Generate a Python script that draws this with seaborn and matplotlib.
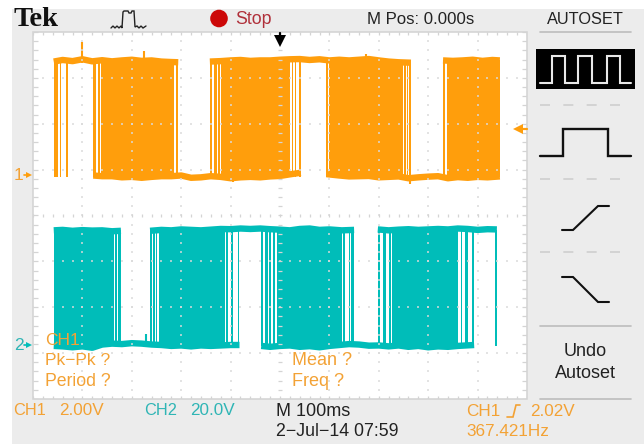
import numpy as np
import pandas as pd
import matplotlib
matplotlib.use("Agg")
import matplotlib.pyplot as plt
from matplotlib.patches import Rectangle, Circle
import seaborn as sns

# ---------- data (time in ms around the trigger, volts per channel) ----------
ch1_bursts = [(-458, -449), (-445, -443), (-433, -429), (-378, -373), (-369, -365),
              (-362, -214), (-211, -206), (-142, -138), (-133, -128), (-125, -121),
              (-119, 21), (24, 27), (30, 33), (38, 42), (94, 97), (100, 249),
              (251, 256), (258, 260), (262, 265), (330, 334), (338, 445)]
ch2_bursts = [(-458, -336), (-334, -329), (-327, -322), (-263, -260), (-257, -253),
              (-251, -248), (-245, -111), (-109, -105), (-99, -95), (-85, -82),
              (-38, -34), (-30, -25), (-22, -18), (-14, -10), (-6, 125),
              (128, 132), (139, 142), (144, 150), (198, 202), (209, 214), (221, 224),
              (226, 361), (366, 369), (374, 381), (389, 393), (435, 439)]

ch1_high_t = [[-458, -440, -420, -400, -380, -360, -340, -320, -300, -280, -260, -240, -220, -206],
              [-142, -120, -100, -80, -60, -40, -20, 0, 20, 40, 60, 80, 100, 120, 140, 160, 180, 200, 220, 240, 265],
              [330, 350, 370, 390, 410, 430, 445]]
ch1_high_v = [[4.95, 5.02, 4.97, 5.05, 4.96, 5.01, 4.96, 5.00, 5.03, 4.98, 5.00, 4.95, 4.93, 4.92],
              [4.95, 4.97, 5.00, 5.02, 4.98, 5.00, 5.00, 5.03, 5.05, 5.06, 5.02, 5.05, 5.00, 5.03, 5.00, 5.03, 5.06, 5.00, 4.95, 4.92, 4.90],
              [5.00, 4.98, 5.00, 5.03, 4.98, 5.02, 5.00]]
ch1_low_t = [[-378, -360, -340, -320, -300, -280, -260, -240, -220, -200, -180, -160, -140, -120, -100, -80, -60, -40, -20, 0, 20, 42],
             [94, 120, 140, 160, 180, 200, 220, 240, 260, 280, 300, 320, 340, 360, 380, 400, 420, 445]]
ch1_low_v = [[-0.02, -0.05, -0.05, -0.10, -0.08, -0.12, -0.08, -0.05, -0.05, -0.02, -0.12, -0.10, -0.05, -0.08, -0.14, -0.10, -0.08, -0.10, -0.06, -0.04, 0.03, 0.10],
             [0.04, -0.02, -0.06, -0.05, -0.04, -0.10, -0.08, -0.06, -0.14, -0.10, -0.07, -0.05, -0.14, -0.09, -0.12, -0.08, -0.10, -0.06]]
ch2_high_t = [[-458, -440, -420, -400, -380, -360, -340, -322],
              [-263, -240, -220, -200, -180, -160, -140, -120, -100, -80, -60, -40, -20, 0, 20, 40, 60, 80, 100, 125, 150],
              [198, 220, 240, 260, 280, 300, 320, 340, 360, 380, 400, 420, 439]]
ch2_high_v = [[50.0, 50.2, 49.8, 50.1, 49.9, 50.0, 49.6, 49.8],
              [49.8, 50.2, 50.0, 50.4, 50.2, 50.0, 50.3, 50.6, 50.5, 50.8, 50.6, 50.8, 50.5, 50.3, 50.0, 50.6, 50.8, 50.2, 50.4, 50.0, 50.2],
              [50.4, 50.0, 50.3, 50.5, 50.2, 50.4, 50.6, 50.4, 50.8, 50.6, 50.2, 50.5, 50.4]]
ch2_low_t = [[-458, -440, -420, -400, -380, -360, -340, -320, -300, -280, -260, -240, -220, -200, -180, -160, -140, -120, -100, -82],
             [-38, -20, 0, 20, 40, 60, 80, 100, 120, 140, 160, 180, 200, 220, 240, 260, 280, 300, 320, 340, 360, 393]]
ch2_low_v = [[-0.4, -0.6, -1.0, -0.6, -1.2, 0.2, 0.6, 0.4, 0.8, 0.6, 0.2, 0.0, -0.4, -0.2, -0.6, -0.2, -0.4, -0.2, 0.0, 0.0],
             [-0.4, -0.8, -0.4, -0.2, -0.8, -0.5, -1.0, -0.4, 0.0, 0.4, 0.2, -0.3, -0.2, -0.6, -0.2, -0.8, -0.4, -1.0, -0.6, -0.8, -0.4, 0.0]]

ch1_spikes = [(-400, 4.9, 5.8), (-275, 4.9, 5.4), (175, 4.9, 5.3), (263, 0.0, -0.4), (-95, 0.0, -0.3)]
ch2_spikes = [(-272, 0.0, 5.0), (-99, 0.0, -1.4), (250, 0.0, -1.6), (30, 0.0, 2.5), (120, 50.0, 51.6), (-33, 50.0, 51.2)]

labels_left = ["CH1", "Pk\u2212Pk ?", "Period ?"]
labels_right = ["Mean ?", "Freq ?"]

ORANGE = "#FF9E0C"
TEAL = "#00BDB9"
TEXT_O = "#F3A235"
TEXT_T = "#2FB5B5"
GRAY = "#ECECEC"
W, H = 644, 444

sns.set_theme(style="white")
plt.rcParams["font.family"] = ["Liberation Sans", "DejaVu Sans"]

fig = plt.figure(figsize=(W / 100, H / 100), dpi=100, facecolor="white")


def new_axes(box, z):
    a = fig.add_axes([box[0] / W, 1 - (box[1] + box[3]) / H, box[2] / W, box[3] / H], zorder=z)
    a.patch.set_alpha(0)
    a.set_xticks([]); a.set_yticks([])
    a.set_xlabel(""); a.set_ylabel("")
    for s in a.spines.values():
        s.set_visible(False)
    return a


def rails(t_lists, v_lists):
    return pd.concat([pd.DataFrame({"t": t, "v": v, "seg": i})
                      for i, (t, v) in enumerate(zip(t_lists, v_lists))], ignore_index=True)


def draw_channel(ax, bursts, high_t, high_v, low_t, low_v, spikes, color, top, bottom):
    for a, b in bursts:
        ax.bar(a, top - bottom, width=b - a, bottom=bottom, align="edge", color=color, linewidth=0)
    for t_l, v_l in ((high_t, high_v), (low_t, low_v)):
        sns.lineplot(data=rails(t_l, v_l), x="t", y="v", units="seg", estimator=None, sort=False,
                     color=color, lw=4.6, legend=False, ax=ax, solid_joinstyle="round", solid_capstyle="butt")
    for t, a, b in spikes:
        ax.plot([t, t], [a, b], color=color, lw=1.5, solid_capstyle="butt")
    ax.set_xticks([]); ax.set_yticks([]); ax.set_xlabel(""); ax.set_ylabel("")


# panel
bg = new_axes((0, 0, W, H), 0)
bg.set_xlim(0, W); bg.set_ylim(H, 0)
bg.add_patch(Rectangle((12, 9), W - 12, H - 9, color=GRAY, lw=0))
bg.add_patch(Rectangle((33, 32), 494, 367, facecolor="white", edgecolor="#D2D2D2", lw=1.1))

PLOT = (33, 32, 494, 367)
ax1 = new_axes(PLOT, 1)
draw_channel(ax1, ch1_bursts, ch1_high_t, ch1_high_v, ch1_low_t, ch1_low_v, ch1_spikes, ORANGE, 5.0, -0.08)
ax1.set_xlim(-500, 500); ax1.set_ylim(-9.77, 6.24)

ax2 = new_axes(PLOT, 2)
draw_channel(ax2, ch2_bursts, ch2_high_t, ch2_high_v, ch2_low_t, ch2_low_v, ch2_spikes, TEAL, 50.0, -0.5)
ax2.set_xlim(-500, 500); ax2.set_ylim(-23.55, 136.5)

# graticule in divisions
gr = new_axes(PLOT, 3)
gr.set_xlim(0, 10); gr.set_ylim(0, 8)
DOT = "#DADADA"
fine_x = np.arange(0, 10.01, 0.2)
fine_y = np.arange(0, 8.01, 0.2)
for d in range(1, 10):
    if d != 5:
        gr.scatter(np.full_like(fine_y, d), fine_y, s=2.0, color=DOT, alpha=0.75, marker="s", linewidths=0)
for d in range(1, 8):
    if d != 4:
        gr.scatter(fine_x, np.full_like(fine_x, d), s=2.0, color=DOT, alpha=0.75, marker="s", linewidths=0)
TICK = "#D4D4D4"
gr.vlines(fine_x, 7.94, 8.0, color=TICK, lw=0.9)
gr.vlines(fine_x, 0.0, 0.06, color=TICK, lw=0.9)
gr.vlines(fine_x, 3.96, 4.04, color=TICK, lw=0.9)
gr.hlines(fine_y, 0.0, 0.1, color=TICK, lw=0.9)
gr.hlines(fine_y, 9.9, 10.0, color=TICK, lw=0.9)
gr.hlines(fine_y, 4.95, 5.05, color=TICK, lw=0.9)
gr.set_xlim(0, 10); gr.set_ylim(0, 8)

# chrome and text, in image pixels
ov = new_axes((0, 0, W, H), 4)
ov.set_xlim(0, W); ov.set_ylim(H, 0)


def txt(x, y, s, color="#222222", ha="left", size=12.0, **kw):
    ov.text(x, y, s, color=color, ha=ha, va="center", fontsize=size, **kw)


def line(xs, ys, color="black", lw=1.6, **kw):
    ov.plot(xs, ys, color=color, lw=lw, solid_joinstyle="miter", **kw)


txt(14, 20, "Tek", color="#111111", size=20.5, fontweight="bold", family="Liberation Serif")
line([111, 113, 115, 117, 119, 121, 122, 123, 124, 128, 129, 131, 132, 134, 135, 137, 139, 141, 143, 146],
     [28, 26, 28, 26, 28, 26, 28, 12, 11, 11, 13, 13, 11, 11, 27, 26, 28, 26, 28, 26], color="#222222", lw=1.0)
ov.add_patch(Circle((219, 18.5), 8.8, color="#CC0808", lw=0))
txt(235, 19, "Stop", color="#B0303A", size=12.8)
txt(367, 19, "M Pos: 0.000s", size=12.1)
txt(547, 19, "AUTOSET", size=11.8)
line([540, 631], [32, 32], color="#BDBDBD", lw=1.2)

ov.add_patch(Rectangle((536, 49), 99, 40, color="black", lw=0))
line([540, 552, 552, 565, 565, 578, 578, 592, 592, 607, 607, 620, 620, 631],
     [83, 83, 56, 56, 83, 83, 56, 56, 83, 83, 56, 56, 83, 83], color="#E8E8E8", lw=1.5)
line([540, 563, 563, 608, 608, 631], [156, 156, 129, 129, 156, 156], color="#111111", lw=1.7)
line([562, 573, 598, 609], [230, 230, 206, 206], color="#111111", lw=1.5)
line([562, 573, 598, 609], [277, 277, 302, 302], color="#111111", lw=1.5)
for yy in (105, 179, 252):
    ov.plot([540, 631], [yy, yy], color="#CFCFCF", lw=1.2, dashes=(6, 8))
line([540, 631], [326, 326], color="#BDBDBD", lw=1.2)
line([540, 631], [399, 399], color="#BDBDBD", lw=1.2)
txt(585, 351, "Undo", ha="center", size=13)
txt(585, 373, "Autoset", ha="center", size=13)

txt(45, 340, labels_left[0], color=TEXT_O, size=12.5)
txt(45, 360, labels_left[1], color=TEXT_O, size=12.5)
txt(45, 381, labels_left[2], color=TEXT_O, size=12.7)
txt(292, 360, labels_right[0], color=TEXT_O, size=13)
txt(292, 381, labels_right[1], color=TEXT_O, size=13)

txt(13, 410, "CH1", color=TEXT_O, size=11.8)
txt(59, 410, "2.00V", color=TEXT_O, size=12.3)
txt(144, 410, "CH2", color=TEXT_T, size=11.8)
txt(190, 410, "20.0V", color=TEXT_T, size=12.3)
txt(276, 411, "M 100ms", size=13)
txt(276, 431, "2\u2212Jul\u221214 07:59", size=12.8)
txt(466, 411, "CH1", color=TEXT_O, size=12.3)
line([507, 513, 516, 520], [417, 417, 405, 405], color=TEXT_O, lw=1.2)
txt(530, 411, "2.02V", color=TEXT_O, size=12.3)
txt(466, 431, "367.421Hz", color=TEXT_O, size=12.3)

# channel and trigger markers
txt(14, 175, "1", color=TEXT_O, size=12.5)
line([24, 29], [175, 175], color=ORANGE, lw=1.2)
ov.plot([29], [175], marker=">", ms=4.5, color=ORANGE, mew=0)
txt(14, 345, "2", color=TEXT_T, size=12.5)
line([24, 29], [345, 345], color=TEAL, lw=1.2)
ov.plot([29], [345], marker=">", ms=4.5, color=TEAL, mew=0)
line([519, 527], [129, 129], color=ORANGE, lw=1.6)
ov.plot([518], [129], marker="<", ms=7.5, color=ORANGE, mew=0)
line([280, 280], [33, 41], color="black", lw=1.6)
ov.plot([280], [41], marker="v", ms=8, color="black", mew=0)

fig.savefig("out.png", dpi=100, facecolor="white")
